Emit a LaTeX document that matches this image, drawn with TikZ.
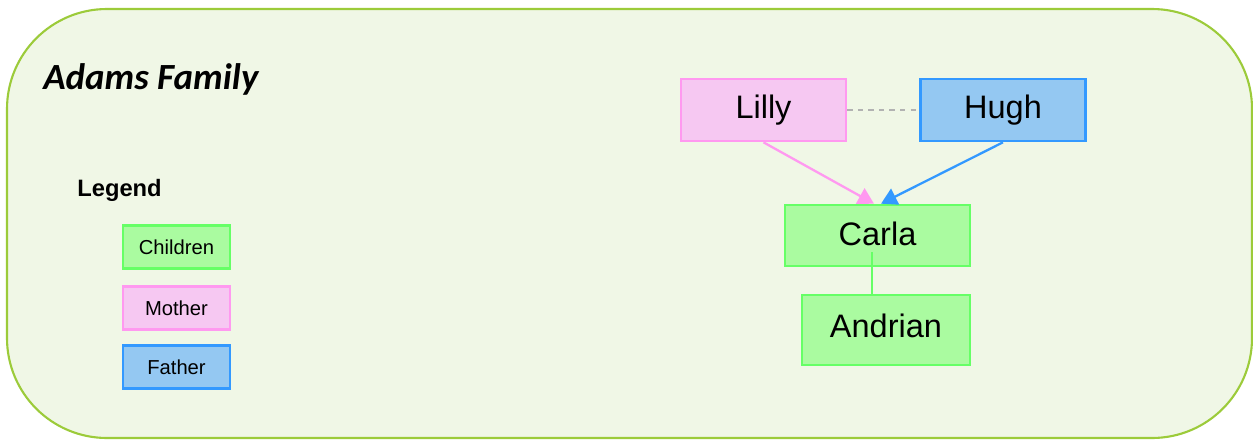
\documentclass[tikz,border=0pt]{standalone}
\usepackage{fontspec}
\setmainfont{Liberation Sans}
\newfontfamily\titlefont{Carlito}
\usepackage{tikz}
\usetikzlibrary{arrows.meta}

\definecolor{bggreen}{HTML}{F0F7E6}
\definecolor{rimgreen}{HTML}{9CCB3A}
\definecolor{kidfill}{HTML}{AAFBA0}
\definecolor{kiddraw}{HTML}{66FF66}
\definecolor{momfill}{HTML}{F6C8F2}
\definecolor{momdraw}{HTML}{FF99F0}
\definecolor{dadfill}{HTML}{94C8F2}
\definecolor{daddraw}{HTML}{3399FF}

\tikzset{
  kidcol/.style={fill=kidfill, draw=kiddraw},
  momcol/.style={fill=momfill, draw=momdraw},
  dadcol/.style={fill=dadfill, draw=daddraw},
  person/.style={draw, line width=1.5pt, minimum width=3.3cm, minimum height=1.24cm,
    inner sep=0pt, font=\fontsize{18.5}{21}\selectfont},
  keybox/.style={draw, line width=1.2pt, minimum width=2.14cm, minimum height=0.86cm,
    inner sep=0pt, font=\fontsize{11.5}{14}\selectfont},
  tip/.style={-{Triangle[length=9pt,width=10pt]}, line width=1.3pt}
}

\begin{document}
\begin{tikzpicture}[x=0.02cm,y=-0.02cm]
\useasboundingbox (0,0) rectangle (1253,440);
% family frame
\draw[rimgreen, fill=bggreen, line width=1.2pt, rounded corners=2cm] (7,9) rectangle (1252,438);
\node[anchor=base west, inner sep=0pt, font=\titlefont\fontsize{21}{24}\selectfont\bfseries\itshape] (title) at (43,89) {Adams Family};

% legend
\node[anchor=west, inner sep=0pt, font=\fontsize{13.5}{15}\selectfont\bfseries] (legend) at (77,190) {Legend};
\foreach \name/\sty/\y in {Children/kidcol/247, Mother/momcol/308, Father/dadcol/367}
  \node[keybox, \sty] (key\name) at (176.5,\y) {\name};

% tree
\node[person, momcol] (lilly) at (763.5,110) {Lilly};
\node[person, dadcol] (hugh) at (1003,110) {Hugh};
\node[person, kidcol, minimum width=3.7cm, minimum height=1.22cm] (carla) at (877.5,235.5) {\raisebox{2pt}{Carla}};
\node[person, kidcol, minimum width=3.36cm, minimum height=1.4cm] (andrian) at (886,330) {\raisebox{5pt}{Andrian}};

\draw[gray!60, dashed, line width=0.8pt] (lilly.east) -- (hugh.west);
\draw[momdraw, tip] (lilly.south) -- ([xshift=-2pt]carla.north);
\draw[daddraw, tip] (hugh.south) -- ([xshift=2pt]carla.north);
\coordinate (stem) at (872,252);
\draw[kiddraw, line width=0.8pt] (stem) -- (stem |- andrian.north);
\end{tikzpicture}
\end{document}
